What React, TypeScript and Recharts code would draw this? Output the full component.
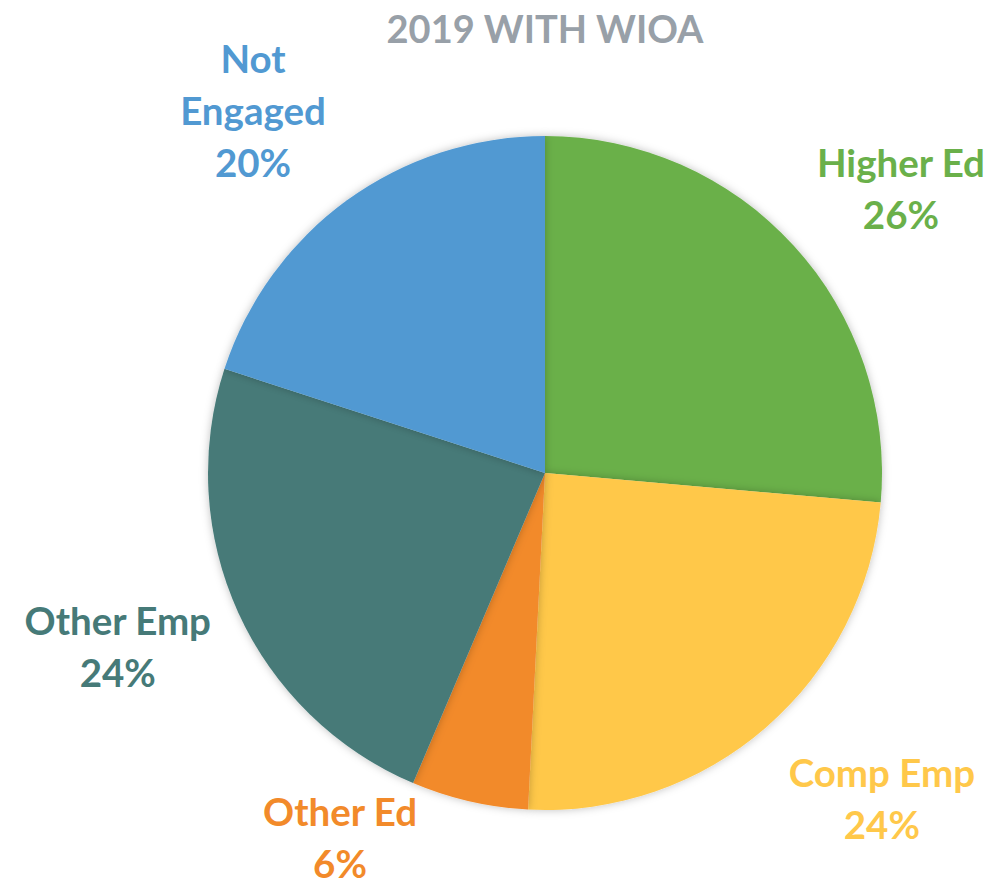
import React from 'react';
import { PieChart, Pie, Cell } from 'recharts';

const categories = ['Higher Ed', 'Comp Emp', 'Other Ed', 'Other Emp', 'Not Engaged'];
const shares = [26.4, 24.4, 5.6, 23.6, 20.0];
const colors = ['#6AB04A', '#FFC84A', '#F28A2A', '#467A78', '#5199D2'];
// label lines as they wrap in the original
const labelLines = [['Higher Ed'], ['Comp Emp'], ['Other Ed'], ['Other Emp'], ['Not', 'Engaged']];
// how far out each label sits, and a small angular nudge (degrees)
const labelDist = [456, 468, 418, 461, 466];
const labelNudge = [-3.8, 5, -16.4, -2.4, 2.8];

const data = categories.map((name, i) => ({ name, value: shares[i] }));

const RAD = Math.PI / 180;
const FONT = 'Lato, "Open Sans", sans-serif';

const renderLabel = (props: any) => {
  const { cx, cy, midAngle, index, percent } = props;
  const a = midAngle + labelNudge[index];
  const r = labelDist[index];
  const x = cx + r * Math.cos(-a * RAD);
  const y = cy + r * Math.sin(-a * RAD);
  const lines = [...labelLines[index], `${Math.round(percent * 100)}%`];
  const lh = 52;
  const top = y - ((lines.length - 1) * lh) / 2;
  return (
    <text
      x={x}
      y={top}
      fill={colors[index]}
      textAnchor="middle"
      dominantBaseline="central"
      fontFamily={FONT}
      fontWeight={700}
      fontSize={38.5}
    >
      {lines.map((t, k) => (
        <tspan key={k} x={x} dy={k === 0 ? 0 : lh}>
          {t}
        </tspan>
      ))}
    </text>
  );
};

export default function App() {
  return (
    <div style={{ position: 'absolute', left: 0, top: 0, width: 1001, height: 882, background: '#fff' }}>
      <PieChart width={1001} height={882} margin={{ top: 0, right: 0, bottom: 0, left: 0 }}>
        <defs>
          <filter id="soft" x="-10%" y="-10%" width="120%" height="120%">
            <feDropShadow dx="0" dy="0" stdDeviation="4" floodColor="#000" floodOpacity="0.25" />
          </filter>
        </defs>
        <text
          x={545}
          y={28}
          textAnchor="middle"
          dominantBaseline="central"
          fill="#98A0A8"
          fontFamily={FONT}
          fontWeight={700}
          fontSize={38}
        >
          2019 WITH WIOA
        </text>
        <Pie
          data={data}
          dataKey="value"
          nameKey="name"
          cx={545}
          cy={473}
          outerRadius={337}
          startAngle={90}
          endAngle={-270}
          stroke="none"
          label={renderLabel}
          labelLine={false}
          isAnimationActive={false}
          style={{ filter: 'url(#soft)' }}
        >
          {data.map((d, i) => (
            <Cell key={d.name} fill={colors[i]} />
          ))}
        </Pie>
      </PieChart>
    </div>
  );
}
